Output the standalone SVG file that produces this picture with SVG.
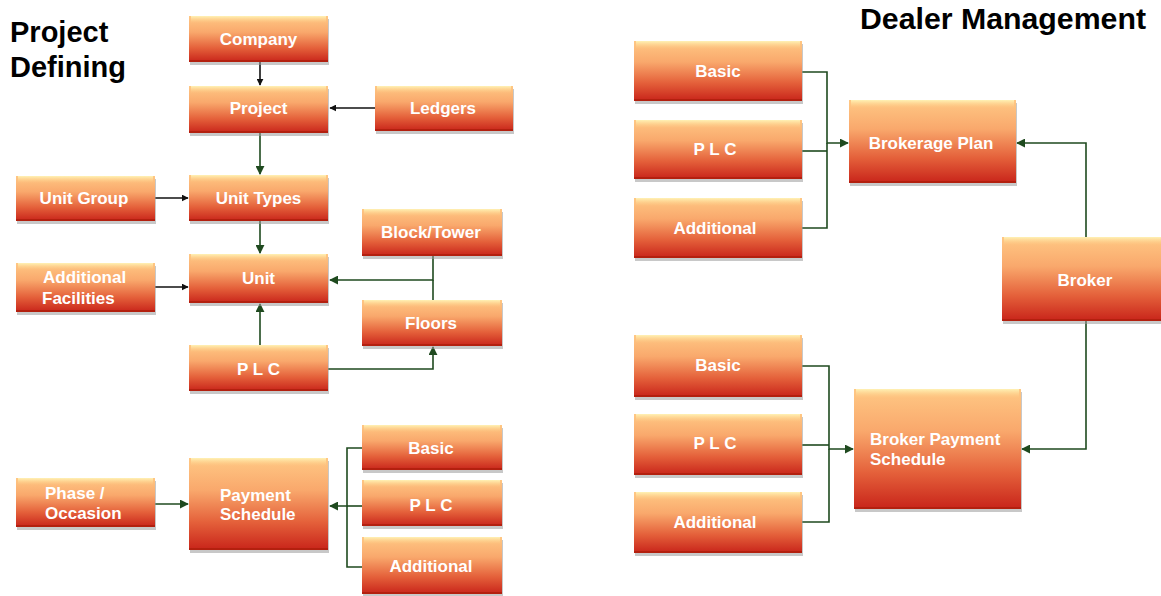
<svg xmlns="http://www.w3.org/2000/svg" width="1161" height="596" viewBox="0 0 1161 596">
<style>
.box{fill:url(#g)}
.hl{fill:url(#h)}
.sh{fill:#9a9a9a;opacity:.55}
.bt{fill:#b3200f}
.lb{font-family:"Liberation Sans",Arial,sans-serif;font-weight:bold;font-size:17px;fill:#fff}
.c{text-anchor:middle}
.title{font-family:"Liberation Sans",Arial,sans-serif;font-weight:bold;font-size:29px;fill:#000}
.k{fill:none;stroke:#111;stroke-width:1.6}
.gr{fill:none;stroke:#1f4a1f;stroke-width:1.6}
</style>
<defs>
<linearGradient id="g" x1="0" y1="0" x2="0" y2="1">
<stop offset="0" stop-color="#ffc884"/>
<stop offset="0.35" stop-color="#f9a86c"/>
<stop offset="0.7" stop-color="#e4603a"/>
<stop offset="1" stop-color="#c8241a"/>
</linearGradient>
<linearGradient id="h" x1="0" y1="0" x2="0" y2="1">
<stop offset="0" stop-color="#fff4b8" stop-opacity="0.95"/>
<stop offset="1" stop-color="#ffd08a" stop-opacity="0"/>
</linearGradient>
<marker id="ak" viewBox="0 0 10 10" refX="9" refY="5" markerWidth="7" markerHeight="7" orient="auto" markerUnits="userSpaceOnUse">
<path d="M0,0 L10,5 L0,10 z" fill="#111"/>
</marker>
<marker id="ag" viewBox="0 0 10 10" refX="9" refY="5" markerWidth="9" markerHeight="9" orient="auto" markerUnits="userSpaceOnUse">
<path d="M0,0 L10,5 L0,10 z" fill="#1f4a1f"/>
</marker>
</defs>
<rect width="1161" height="596" fill="#fff"/>
<text class="title" x="10" y="42">Project</text>
<text class="title" x="10" y="77">Defining</text>
<text class="title" x="860" y="29" textLength="286" lengthAdjust="spacingAndGlyphs">Dealer Management</text>

<g id="connectors">
<path class="k" d="M260,62 V85" marker-end="url(#ak)"/>
<path class="k" d="M375,108 H330" marker-end="url(#ak)"/>
<path class="gr" d="M260,133 V174" marker-end="url(#ag)"/>
<path class="k" d="M155,198 H188" marker-end="url(#ak)"/>
<path class="gr" d="M260,221 V253" marker-end="url(#ag)"/>
<path class="k" d="M155,287 H188" marker-end="url(#ak)"/>
<path class="gr" d="M433,256 V280 H330" marker-end="url(#ag)"/>
<path class="gr" d="M433,300 V280"/>
<path class="gr" d="M260,345 V304" marker-end="url(#ag)"/>
<path class="gr" d="M328,369 H433 V347" marker-end="url(#ag)"/>
<path class="gr" d="M155,504 H188" marker-end="url(#ag)"/>
<path class="gr" d="M362,448 H347 V506 H330" marker-end="url(#ag)"/>
<path class="gr" d="M362,506 H347"/>
<path class="gr" d="M362,567 H347 V506"/>
<path class="gr" d="M802,72 H827 V143 H848" marker-end="url(#ag)"/>
<path class="gr" d="M802,151 H827"/>
<path class="gr" d="M802,228 H827 V143"/>
<path class="gr" d="M1086,237 V143 H1017" marker-end="url(#ag)"/>
<path class="gr" d="M802,366 H829 V449 H853" marker-end="url(#ag)"/>
<path class="gr" d="M802,445 H829"/>
<path class="gr" d="M802,522 H829 V449"/>
<path class="gr" d="M1086,321 V449 H1022" marker-end="url(#ag)"/>
</g>

<g id="company"><rect class="sh" x="190" y="19" width="139" height="46"/><rect class="box" x="189" y="16" width="139" height="46"/><rect class="hl" x="191" y="16" width="135" height="7"/><rect class="bt" x="189" y="60" width="139" height="2"/><text class="lb c" x="258.5" y="45">Company</text></g>
<g id="project"><rect class="sh" x="190" y="89" width="139" height="47"/><rect class="box" x="189" y="86" width="139" height="47"/><rect class="hl" x="191" y="86" width="135" height="7"/><rect class="bt" x="189" y="131" width="139" height="2"/><text class="lb c" x="258.5" y="114">Project</text></g>
<g id="ledgers"><rect class="sh" x="376" y="89" width="138" height="45"/><rect class="box" x="375" y="86" width="138" height="45"/><rect class="hl" x="377" y="86" width="134" height="7"/><rect class="bt" x="375" y="129" width="138" height="2"/><text class="lb c" x="443" y="114">Ledgers</text></g>
<g id="unit-group"><rect class="sh" x="17" y="179" width="139" height="45"/><rect class="box" x="16" y="176" width="139" height="45"/><rect class="hl" x="18" y="176" width="135" height="7"/><rect class="bt" x="16" y="219" width="139" height="2"/><text class="lb c" x="84" y="204">Unit Group</text></g>
<g id="unit-types"><rect class="sh" x="190" y="178" width="139" height="46"/><rect class="box" x="189" y="175" width="139" height="46"/><rect class="hl" x="191" y="175" width="135" height="7"/><rect class="bt" x="189" y="219" width="139" height="2"/><text class="lb c" x="258.5" y="204">Unit Types</text></g>
<g id="block-tower"><rect class="sh" x="363" y="212" width="140" height="47"/><rect class="box" x="362" y="209" width="140" height="47"/><rect class="hl" x="364" y="209" width="136" height="7"/><rect class="bt" x="362" y="254" width="140" height="2"/><text class="lb c" x="431" y="238">Block/Tower</text></g>
<g id="unit"><rect class="sh" x="190" y="257" width="139" height="49"/><rect class="box" x="189" y="254" width="139" height="49"/><rect class="hl" x="191" y="254" width="135" height="7"/><rect class="bt" x="189" y="301" width="139" height="2"/><text class="lb c" x="258.5" y="284">Unit</text></g>
<g id="additional-facilities"><rect class="sh" x="17" y="266" width="139" height="49"/><rect class="box" x="16" y="263" width="139" height="49"/><rect class="hl" x="18" y="263" width="135" height="7"/><rect class="bt" x="16" y="310" width="139" height="2"/><text class="lb" x="43" y="283">Additional</text><text class="lb" x="42" y="304">Facilities</text></g>
<g id="floors"><rect class="sh" x="363" y="303" width="140" height="46"/><rect class="box" x="362" y="300" width="140" height="46"/><rect class="hl" x="364" y="300" width="136" height="7"/><rect class="bt" x="362" y="344" width="140" height="2"/><text class="lb c" x="431" y="329">Floors</text></g>
<g id="plc-unit"><rect class="sh" x="190" y="348" width="139" height="46"/><rect class="box" x="189" y="345" width="139" height="46"/><rect class="hl" x="191" y="345" width="135" height="7"/><rect class="bt" x="189" y="389" width="139" height="2"/><text class="lb c" x="258.5" y="375">P L C</text></g>

<g id="phase-occasion"><rect class="sh" x="17" y="481" width="139" height="49"/><rect class="box" x="16" y="478" width="139" height="49"/><rect class="hl" x="18" y="478" width="135" height="7"/><rect class="bt" x="16" y="525" width="139" height="2"/><text class="lb" x="45" y="499">Phase /</text><text class="lb" x="45" y="519">Occasion</text></g>
<g id="payment-schedule"><rect class="sh" x="190" y="461" width="139" height="92"/><rect class="box" x="189" y="458" width="139" height="92"/><rect class="hl" x="191" y="458" width="135" height="8"/><rect class="bt" x="189" y="548" width="139" height="2"/><text class="lb" x="220" y="501">Payment</text><text class="lb" x="220" y="520">Schedule</text></g>
<g id="ps-basic"><rect class="sh" x="363" y="428" width="140" height="45"/><rect class="box" x="362" y="425" width="140" height="45"/><rect class="hl" x="364" y="425" width="136" height="7"/><rect class="bt" x="362" y="468" width="140" height="2"/><text class="lb c" x="431" y="454">Basic</text></g>
<g id="ps-plc"><rect class="sh" x="363" y="483" width="140" height="46"/><rect class="box" x="362" y="480" width="140" height="46"/><rect class="hl" x="364" y="480" width="136" height="7"/><rect class="bt" x="362" y="524" width="140" height="2"/><text class="lb c" x="431" y="511">P L C</text></g>
<g id="ps-additional"><rect class="sh" x="363" y="540" width="140" height="56"/><rect class="box" x="362" y="537" width="140" height="57"/><rect class="hl" x="364" y="537" width="136" height="7"/><rect class="bt" x="362" y="592" width="140" height="2"/><text class="lb c" x="431" y="572">Additional</text></g>

<g id="bp-basic"><rect class="sh" x="635" y="44" width="168" height="60"/><rect class="box" x="634" y="41" width="168" height="60"/><rect class="hl" x="636" y="41" width="164" height="8"/><rect class="bt" x="634" y="99" width="168" height="2"/><text class="lb c" x="718" y="77">Basic</text></g>
<g id="bp-plc"><rect class="sh" x="635" y="123" width="168" height="59"/><rect class="box" x="634" y="120" width="168" height="59"/><rect class="hl" x="636" y="120" width="164" height="8"/><rect class="bt" x="634" y="177" width="168" height="2"/><text class="lb c" x="715" y="155">P L C</text></g>
<g id="bp-additional"><rect class="sh" x="635" y="201" width="168" height="60"/><rect class="box" x="634" y="198" width="168" height="60"/><rect class="hl" x="636" y="198" width="164" height="8"/><rect class="bt" x="634" y="256" width="168" height="2"/><text class="lb c" x="715" y="234">Additional</text></g>
<g id="brokerage-plan"><rect class="sh" x="850" y="103" width="167" height="83"/><rect class="box" x="849" y="100" width="167" height="83"/><rect class="hl" x="851" y="100" width="163" height="8"/><rect class="bt" x="849" y="181" width="167" height="2"/><text class="lb c" x="931" y="149">Brokerage Plan</text></g>
<g id="broker"><rect class="sh" x="1003" y="240" width="170" height="84"/><rect class="box" x="1002" y="237" width="170" height="84"/><rect class="hl" x="1004" y="237" width="166" height="8"/><rect class="bt" x="1002" y="319" width="170" height="2"/><text class="lb c" x="1085" y="286">Broker</text></g>
<g id="bps-basic"><rect class="sh" x="635" y="338" width="168" height="62"/><rect class="box" x="634" y="335" width="168" height="62"/><rect class="hl" x="636" y="335" width="164" height="8"/><rect class="bt" x="634" y="395" width="168" height="2"/><text class="lb c" x="718" y="371">Basic</text></g>
<g id="bps-plc"><rect class="sh" x="635" y="417" width="168" height="61"/><rect class="box" x="634" y="414" width="168" height="61"/><rect class="hl" x="636" y="414" width="164" height="8"/><rect class="bt" x="634" y="473" width="168" height="2"/><text class="lb c" x="715" y="449">P L C</text></g>
<g id="bps-additional"><rect class="sh" x="635" y="495" width="168" height="61"/><rect class="box" x="634" y="492" width="168" height="61"/><rect class="hl" x="636" y="492" width="164" height="8"/><rect class="bt" x="634" y="551" width="168" height="2"/><text class="lb c" x="715" y="528">Additional</text></g>
<g id="broker-payment-schedule"><rect class="sh" x="855" y="392" width="167" height="120"/><rect class="box" x="854" y="389" width="167" height="120"/><rect class="hl" x="856" y="389" width="163" height="9"/><rect class="bt" x="854" y="507" width="167" height="2"/><text class="lb" x="870" y="445">Broker Payment</text><text class="lb" x="870" y="465">Schedule</text></g>
</svg>
